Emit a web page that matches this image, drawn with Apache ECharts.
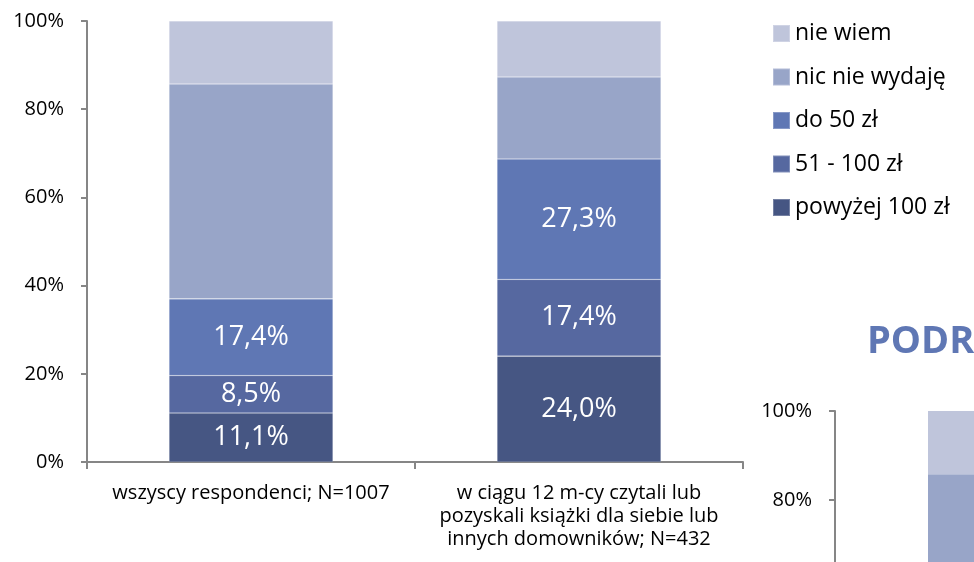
<!DOCTYPE html>
<html>
<head>
<meta charset="utf-8">
<script src="https://cdn.jsdelivr.net/npm/echarts@6/dist/echarts.min.js"></script>
<style>
  html, body {margin: 0; padding: 0; background: #fff;}
  #chart {width: 974px; height: 562px;}
</style>
</head>
<body>
<div id="chart"></div>
<script>
// kategorie (oś X)
const categories = ['wszyscy respondenci; N=1007', 'w ciągu 12 m-cy czytali lub\npozyskali książki dla siebie lub\ninnych domowników; N=432']
const seriesNames = ['powyżej 100 zł', '51 - 100 zł', 'do 50 zł', 'nic nie wydaję', 'nie wiem']
// wartości w % (od dołu słupka)
const powyzej100 = [11.1, 24.0]
const od51do100 = [8.5, 17.4]
const do50 = [17.4, 27.3]
const nicNieWydaje = [48.7, 18.6]
const nieWiem = [14.3, 12.7]
// etykiety widoczne na wykresie
const showLabel = [[true, true], [true, true], [true, true], [false, false], [false, false]]
// drugi (ucięty) wykres – widoczna jest tylko górna część pierwszego słupka
const podrCategories = ['a', 'b']
const podrValues = [[10, 0], [9, 0], [17, 0], [49.8, 0], [14.2, 0]]

const colors = ['#465683', '#5668A0', '#5F77B4', '#98A5C8', '#BFC5DB']
const font = 'Open Sans, Lato, sans-serif'

const mainData = [powyzej100, od51do100, do50, nicNieWydaje, nieWiem]

let series = []
mainData.forEach((vals, i) => {
  series.push({
    name: seriesNames[i],
    type: 'bar',
    stack: 'main',
    barWidth: '50%',
    xAxisIndex: 0,
    yAxisIndex: 0,
    itemStyle: {color: colors[i], borderColor: 'rgba(255,255,255,0.25)', borderWidth: 0.6},
    data: vals.map((v, j) => ({
      value: v,
      label: {
        show: showLabel[i][j],
        position: 'inside',
        color: '#fff',
        fontSize: 27,
        fontFamily: font,
        formatter: p => p.value.toFixed(1).replace('.', ',') + '%'
      }
    }))
  })
})
podrValues.forEach((vals, i) => {
  series.push({
    name: seriesNames[i] + ' ',
    type: 'bar',
    stack: 'podr',
    barWidth: '50%',
    xAxisIndex: 1,
    yAxisIndex: 1,
    itemStyle: {color: colors[i]},
    data: vals
  })
})

const yAxisCommon = {
  type: 'value',
  min: 0,
  max: 100,
  interval: 20,
  axisLine: {show: true, lineStyle: {color: '#868686', width: 2}},
  axisTick: {show: true, length: 6, lineStyle: {color: '#868686', width: 2}},
  splitLine: {show: false},
  axisLabel: {color: '#000', fontSize: 20, fontFamily: font, margin: 23, formatter: '{value}%'}
}

let option = {
  animation: false,
  backgroundColor: '#fff',
  grid: [
    {left: 87, top: 21, width: 656, height: 441, outerBoundsMode: 'none'},
    {left: 835, top: 411, width: 744, height: 445, outerBoundsMode: 'none'}
  ],
  legend: {
    data: seriesNames.slice().reverse(),
    orient: 'vertical',
    left: 767,
    top: 17,
    itemWidth: 17,
    itemHeight: 17,
    itemGap: 20.5,
    icon: 'rect',
    textStyle: {color: '#000', fontSize: 23, fontFamily: font}
  },
  title: {
    text: 'PODRĘCZNIKI',
    left: 862,
    top: 318,
    textStyle: {color: '#5F77B4', fontSize: 38, fontWeight: 'bold', fontFamily: font}
  },
  xAxis: [
    {
      type: 'category',
      gridIndex: 0,
      data: categories,
      axisLine: {lineStyle: {color: '#868686', width: 2}},
      axisTick: {show: true, length: 7, lineStyle: {color: '#868686', width: 2}},
      axisLabel: {color: '#000', fontSize: 20, fontFamily: font, lineHeight: 23, margin: 20, interval: 0}
    },
    {
      type: 'category',
      gridIndex: 1,
      data: podrCategories,
      axisLine: {show: false},
      axisTick: {show: false},
      axisLabel: {show: false}
    }
  ],
  yAxis: [
    Object.assign({gridIndex: 0}, yAxisCommon),
    Object.assign({gridIndex: 1}, yAxisCommon)
  ],
  series: series
}

let myChart = echarts.init(document.getElementById('chart'))
myChart.setOption(option)
</script>
</body>
</html>
